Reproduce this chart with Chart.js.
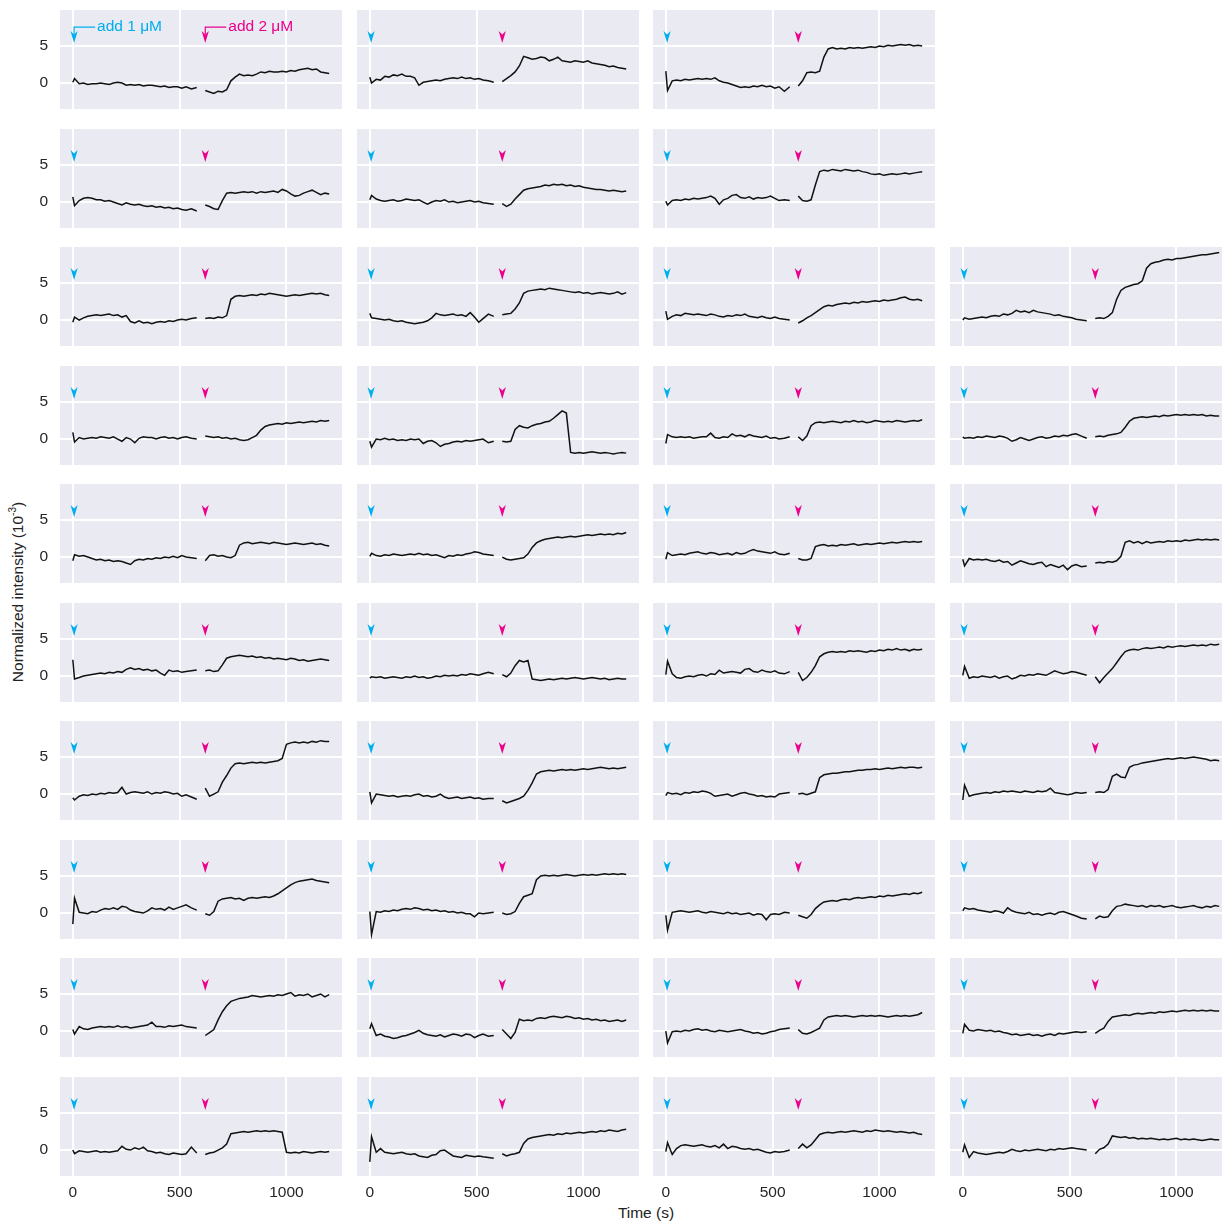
<!DOCTYPE html>
<html>
<head>
<meta charset="utf-8">
<script src="https://cdn.jsdelivr.net/npm/chart.js@4.4.1/dist/chart.umd.min.js"></script>
<style>
  html, body { margin: 0; padding: 0; background: #fff; overflow: hidden; width: 1222px; height: 1222px; }
  #fig { position: relative; width: 1222px; height: 1222px; overflow: hidden; }
  #fig canvas { position: absolute; }
  .axt { position: absolute; font-family: "Liberation Sans", Arial, sans-serif; font-size: 15.5px; color: #222; white-space: nowrap; }
  .axt sup { font-size: 10px; }
  #ytitle { left: 17px; top: 592px; transform: translate(-50%, -50%) rotate(-90deg); }
  #xtitle { left: 646px; top: 1213px; transform: translate(-50%, -50%); }
</style>
</head>
<body>
<div id="fig">
  <div class="axt" id="ytitle">Normalized intensity (10<sup>-3</sup>)</div>
  <div class="axt" id="xtitle">Time (s)</div>
</div>
<script>
// sample times (s) of the two recording segments
const t1 = [0, 8, 30, 50, 70, 90, 110, 130, 150, 170, 190, 210, 230, 250, 270, 290, 310, 330, 350, 370, 390, 410, 430, 450, 470, 490, 510, 530, 555, 580];
const t2 = [620, 640, 660, 680, 700, 720, 740, 760, 780, 800, 820, 840, 860, 880, 900, 920, 940, 960, 980, 1000, 1020, 1040, 1060, 1080, 1100, 1120, 1140, 1160, 1180, 1200];

// additions: time (s), label, colour
const additionTimes = [6, 620];
const doseLabels = ['add 1 \u03bcM', 'add 2 \u03bcM'];
const doseColors = ['#00AEEF', '#EC008C'];

const xTicks = [0, 500, 1000];
const yTicks = [0, 5];

// normalized intensity traces (10^-3), per cell: after 1 uM and after 2 uM
const r1c1_1uM = [0.1, 0.6, -0.1, 0.0, -0.2, -0.1, -0.1, 0.0, -0.1, -0.2, 0.0, 0.1, 0.0, -0.3, -0.2, -0.3, -0.2, -0.4, -0.3, -0.3, -0.4, -0.5, -0.4, -0.6, -0.5, -0.5, -0.7, -0.5, -0.8, -0.6];
const r1c1_2uM = [-1.0, -1.2, -1.4, -1.1, -1.2, -0.9, 0.3, 0.8, 1.2, 1.0, 1.1, 1.0, 1.2, 1.5, 1.4, 1.6, 1.5, 1.5, 1.6, 1.5, 1.7, 1.6, 1.8, 1.9, 2.0, 1.8, 1.9, 1.5, 1.4, 1.3];
const r1c2_1uM = [0.8, 0.0, 0.5, 0.4, 0.9, 0.8, 1.1, 1.0, 1.2, 0.9, 0.9, 0.7, -0.3, 0.1, 0.2, 0.3, 0.4, 0.3, 0.5, 0.6, 0.7, 0.6, 0.8, 0.6, 0.7, 0.5, 0.6, 0.4, 0.3, 0.1];
const r1c2_2uM = [0.2, 0.6, 1.0, 1.5, 2.3, 3.6, 3.4, 3.2, 3.3, 3.5, 3.4, 3.0, 3.2, 3.5, 3.0, 2.9, 2.8, 3.0, 2.9, 2.8, 3.0, 2.7, 2.6, 2.5, 2.4, 2.2, 2.3, 2.1, 2.0, 1.9];
const r1c3_1uM = [1.6, -1.0, 0.3, 0.4, 0.3, 0.5, 0.4, 0.5, 0.6, 0.5, 0.6, 0.5, 0.7, 0.3, 0.1, 0.0, -0.2, -0.4, -0.6, -0.5, -0.6, -0.4, -0.5, -0.3, -0.5, -0.4, -0.7, -0.5, -1.1, -0.5];
const r1c3_2uM = [-0.4, 0.3, 1.4, 1.5, 1.4, 1.6, 3.5, 4.6, 4.8, 4.6, 4.7, 4.6, 4.8, 4.7, 4.8, 4.7, 4.8, 4.9, 4.8, 5.0, 4.9, 5.1, 5.0, 5.1, 5.2, 5.1, 5.2, 5.0, 5.1, 5.0];

const r2c1_1uM = [0.7, -0.5, 0.2, 0.5, 0.6, 0.5, 0.3, 0.3, 0.1, 0.2, 0.0, -0.2, -0.4, -0.1, -0.3, -0.4, -0.3, -0.5, -0.6, -0.5, -0.7, -0.6, -0.8, -0.7, -0.9, -0.8, -1.0, -1.1, -0.9, -1.2];
const r2c1_2uM = [-0.4, -0.6, -0.9, -1.0, 0.2, 1.2, 1.3, 1.2, 1.3, 1.4, 1.3, 1.4, 1.2, 1.4, 1.3, 1.4, 1.5, 1.3, 1.7, 1.5, 1.1, 0.8, 0.9, 1.2, 1.4, 1.6, 1.3, 1.0, 1.2, 1.1];
const r2c2_1uM = [0.3, 0.9, 0.4, 0.2, 0.1, 0.2, 0.3, 0.1, 0.2, 0.4, 0.3, 0.2, 0.3, 0.0, -0.3, 0.0, 0.2, 0.1, 0.3, 0.0, 0.1, -0.1, 0.0, 0.1, 0.2, 0.0, 0.1, -0.1, -0.2, -0.3];
const r2c2_2uM = [-0.2, -0.6, -0.3, 0.4, 1.0, 1.6, 1.8, 1.9, 2.0, 2.1, 2.3, 2.2, 2.4, 2.3, 2.4, 2.2, 2.3, 2.1, 2.2, 2.0, 1.9, 1.8, 1.7, 1.7, 1.6, 1.5, 1.6, 1.5, 1.4, 1.5];
const r2c3_1uM = [0.1, -0.4, 0.2, 0.3, 0.2, 0.4, 0.3, 0.5, 0.4, 0.5, 0.6, 0.8, 0.5, -0.3, 0.3, 0.5, 0.9, 1.0, 0.6, 0.5, 0.7, 0.4, 0.6, 0.5, 0.6, 0.8, 0.5, 0.2, 0.3, 0.2];
const r2c3_2uM = [0.8, 0.2, 0.1, 0.3, 2.3, 4.1, 4.3, 4.2, 4.4, 4.3, 4.2, 4.4, 4.3, 4.2, 4.3, 4.1, 4.0, 3.8, 3.7, 3.8, 3.6, 3.7, 3.8, 3.7, 3.8, 3.9, 3.8, 3.9, 4.0, 4.1];

const r3c1_1uM = [-0.3, 0.4, 0.0, 0.3, 0.5, 0.6, 0.7, 0.6, 0.7, 0.8, 0.6, 0.7, 0.4, 0.6, -0.2, -0.4, -0.1, -0.4, -0.3, -0.5, -0.3, -0.2, -0.3, -0.1, -0.2, 0.0, 0.1, 0.0, 0.2, 0.3];
const r3c1_2uM = [0.2, 0.3, 0.2, 0.4, 0.3, 0.6, 2.8, 3.2, 3.3, 3.2, 3.3, 3.4, 3.3, 3.5, 3.4, 3.6, 3.5, 3.4, 3.3, 3.2, 3.3, 3.4, 3.3, 3.4, 3.5, 3.6, 3.5, 3.6, 3.4, 3.3];
const r3c2_1uM = [0.9, 0.3, 0.2, 0.1, 0.0, 0.1, -0.1, -0.2, -0.1, -0.3, -0.4, -0.5, -0.4, -0.3, -0.1, 0.3, 0.9, 0.7, 0.6, 0.7, 0.8, 0.6, 0.7, 0.5, 1.0, 0.4, -0.3, 0.2, 0.8, 0.5];
const r3c2_2uM = [0.7, 0.8, 0.9, 1.5, 2.3, 3.6, 3.9, 4.0, 4.1, 4.2, 4.1, 4.3, 4.2, 4.1, 4.0, 3.9, 3.8, 3.7, 3.8, 3.6, 3.7, 3.5, 3.6, 3.7, 3.6, 3.5, 3.6, 3.8, 3.5, 3.7];
const r3c3_1uM = [1.2, 0.1, 0.5, 0.7, 0.6, 0.9, 0.8, 0.7, 0.8, 0.7, 0.6, 0.8, 0.7, 0.5, 0.4, 0.6, 0.5, 0.7, 0.6, 0.8, 0.5, 0.4, 0.3, 0.5, 0.3, 0.2, 0.4, 0.2, 0.1, 0.0];
const r3c3_2uM = [-0.4, -0.1, 0.3, 0.6, 1.0, 1.4, 1.8, 2.0, 1.9, 2.1, 2.2, 2.3, 2.2, 2.4, 2.3, 2.5, 2.4, 2.5, 2.6, 2.5, 2.7, 2.6, 2.7, 2.8, 3.0, 3.1, 2.8, 2.7, 2.8, 2.6];
const r3c4_1uM = [0.0, 0.3, 0.1, 0.2, 0.3, 0.4, 0.3, 0.5, 0.6, 0.5, 0.8, 0.7, 0.9, 1.3, 1.1, 1.2, 1.0, 1.3, 1.1, 1.0, 0.9, 0.8, 0.6, 0.7, 0.5, 0.4, 0.3, 0.1, 0.0, -0.1];
const r3c4_2uM = [0.2, 0.3, 0.2, 0.5, 1.0, 2.8, 4.0, 4.4, 4.6, 4.8, 4.9, 5.3, 7.0, 7.6, 7.8, 7.9, 8.1, 8.2, 8.1, 8.3, 8.3, 8.4, 8.5, 8.6, 8.7, 8.8, 8.8, 8.9, 9.0, 9.1];

const r4c1_1uM = [0.9, -0.4, 0.2, 0.0, 0.1, 0.2, 0.1, 0.3, 0.2, 0.1, 0.3, 0.0, -0.3, 0.2, 0.0, -0.5, 0.1, 0.3, 0.2, 0.2, 0.0, 0.2, 0.3, 0.1, 0.2, 0.0, 0.2, 0.3, 0.1, 0.0];
const r4c1_2uM = [0.4, 0.3, 0.2, 0.3, 0.1, 0.2, 0.0, 0.1, -0.1, -0.2, -0.1, 0.2, 0.5, 1.2, 1.7, 1.9, 2.0, 2.1, 2.0, 2.2, 2.1, 2.2, 2.3, 2.2, 2.3, 2.4, 2.3, 2.5, 2.4, 2.5];
const r4c2_1uM = [-0.3, -1.1, 0.0, -0.1, 0.1, -0.1, 0.0, -0.2, -0.1, -0.2, 0.0, -0.1, 0.0, -0.6, -0.3, -0.2, -0.5, -1.0, -0.7, -0.6, -0.4, -0.3, -0.4, -0.2, -0.3, -0.2, -0.1, 0.0, -0.5, -0.3];
const r4c2_2uM = [-0.3, -0.4, -0.3, 1.3, 1.8, 1.6, 1.5, 1.8, 2.0, 2.1, 2.3, 2.4, 2.8, 3.3, 3.8, 3.5, -1.8, -1.9, -1.8, -1.9, -1.8, -1.7, -1.8, -1.9, -1.8, -1.9, -2.0, -1.9, -1.8, -1.9];
const r4c3_1uM = [-0.6, 0.6, 0.3, 0.2, 0.3, 0.2, 0.3, 0.1, 0.2, 0.3, 0.3, 0.8, 0.2, 0.1, 0.3, 0.2, 0.7, 0.4, 0.5, 0.3, 0.6, 0.4, 0.3, 0.2, 0.4, 0.1, 0.2, 0.0, 0.1, 0.3];
const r4c3_2uM = [0.3, -0.2, 0.4, 1.8, 2.2, 2.3, 2.2, 2.3, 2.4, 2.3, 2.2, 2.4, 2.3, 2.5, 2.3, 2.4, 2.2, 2.3, 2.5, 2.4, 2.3, 2.4, 2.3, 2.5, 2.4, 2.3, 2.4, 2.5, 2.4, 2.6];
const r4c4_1uM = [0.3, 0.1, 0.2, 0.1, 0.3, 0.2, 0.4, 0.3, 0.2, 0.4, 0.3, 0.1, -0.3, -0.1, 0.2, 0.0, -0.2, 0.0, 0.2, 0.3, 0.1, 0.2, 0.4, 0.3, 0.5, 0.4, 0.6, 0.7, 0.4, 0.1];
const r4c4_2uM = [0.3, 0.4, 0.3, 0.5, 0.6, 0.7, 0.9, 1.6, 2.4, 2.8, 2.9, 3.0, 2.9, 3.0, 3.1, 3.0, 3.2, 3.1, 3.2, 3.3, 3.2, 3.3, 3.2, 3.3, 3.2, 3.3, 3.1, 3.2, 3.1, 3.1];

const r5c1_1uM = [-0.5, 0.3, 0.1, 0.2, 0.0, -0.2, -0.4, -0.3, -0.5, -0.4, -0.6, -0.5, -0.6, -0.8, -1.0, -0.5, -0.3, -0.4, -0.2, -0.3, -0.1, -0.2, 0.0, -0.1, 0.1, -0.1, 0.2, 0.0, -0.1, -0.2];
const r5c1_2uM = [-0.5, 0.2, 0.3, 0.1, 0.2, 0.0, -0.1, 0.2, 1.6, 1.9, 2.0, 1.8, 1.9, 2.0, 1.9, 1.8, 2.0, 1.9, 1.8, 1.7, 1.8, 1.9, 1.8, 1.7, 1.8, 1.9, 1.7, 1.8, 1.6, 1.5];
const r5c2_1uM = [0.1, 0.5, 0.2, 0.1, 0.3, 0.2, 0.4, 0.3, 0.2, 0.3, 0.4, 0.3, 0.5, 0.3, 0.4, 0.2, 0.3, 0.1, -0.1, 0.2, 0.1, 0.3, 0.2, 0.4, 0.5, 0.7, 0.6, 0.4, 0.3, 0.2];
const r5c2_2uM = [0.0, -0.3, -0.4, -0.3, -0.2, -0.1, 0.4, 1.3, 1.9, 2.2, 2.4, 2.5, 2.6, 2.7, 2.6, 2.7, 2.8, 2.7, 2.8, 2.9, 3.0, 2.9, 3.0, 3.1, 3.0, 3.1, 3.0, 3.2, 3.1, 3.3];
const r5c3_1uM = [-0.3, 0.6, 0.2, 0.3, 0.4, 0.3, 0.5, 0.6, 0.7, 0.5, 0.4, 0.6, 0.5, 0.3, 0.4, 0.5, 0.3, 0.6, 0.4, 0.5, 0.8, 1.0, 0.8, 0.7, 0.6, 0.5, 0.7, 0.4, 0.3, 0.5];
const r5c3_2uM = [-0.2, -0.4, -0.4, -0.2, 1.4, 1.6, 1.7, 1.5, 1.6, 1.5, 1.7, 1.6, 1.7, 1.8, 1.6, 1.7, 1.8, 1.7, 1.8, 1.9, 1.8, 1.9, 2.0, 1.9, 2.0, 2.1, 2.0, 2.1, 2.0, 2.1];
const r5c4_1uM = [-0.3, -1.2, -0.2, -0.4, -0.3, -0.4, -0.3, -0.5, -0.6, -0.4, -0.7, -0.6, -1.1, -0.8, -0.5, -0.7, -0.9, -1.0, -0.8, -0.7, -1.3, -1.0, -1.2, -1.4, -1.1, -1.7, -1.2, -1.0, -1.3, -1.2];
const r5c4_2uM = [-0.8, -0.7, -0.8, -0.6, -0.7, -0.5, 0.1, 2.0, 2.2, 1.9, 2.1, 1.8, 2.1, 1.9, 2.0, 2.1, 2.0, 2.2, 2.1, 2.2, 2.1, 2.3, 2.2, 2.3, 2.4, 2.3, 2.4, 2.3, 2.4, 2.3];

const r6c1_1uM = [2.2, -0.4, -0.2, 0.0, 0.1, 0.2, 0.3, 0.4, 0.3, 0.5, 0.4, 0.6, 0.5, 0.9, 1.1, 0.9, 1.0, 0.8, 0.9, 0.7, 0.8, 0.4, 0.1, 0.8, 0.6, 0.7, 0.5, 0.6, 0.7, 0.8];
const r6c1_2uM = [0.7, 0.8, 0.6, 0.7, 1.5, 2.4, 2.6, 2.7, 2.8, 2.7, 2.6, 2.7, 2.5, 2.6, 2.4, 2.5, 2.3, 2.4, 2.3, 2.2, 2.4, 2.3, 2.1, 2.2, 2.0, 2.1, 2.2, 2.3, 2.2, 2.1];
const r6c2_1uM = [-0.3, -0.1, -0.2, -0.1, -0.3, -0.2, -0.1, -0.2, -0.3, -0.1, -0.2, 0.0, -0.2, -0.1, -0.3, -0.2, 0.0, -0.1, 0.1, 0.0, 0.1, 0.0, 0.2, 0.1, 0.3, 0.2, 0.1, 0.3, 0.5, 0.3];
const r6c2_2uM = [0.2, -0.1, 0.4, 1.4, 2.1, 1.9, 2.1, -0.4, -0.5, -0.6, -0.5, -0.4, -0.5, -0.4, -0.3, -0.4, -0.3, -0.2, -0.3, -0.4, -0.3, -0.2, -0.3, -0.4, -0.3, -0.5, -0.4, -0.3, -0.4, -0.4];
const r6c3_1uM = [0.2, 2.0, 0.3, -0.2, -0.3, -0.1, 0.0, -0.1, 0.1, 0.2, 0.0, 0.3, 0.2, 0.8, 0.4, 0.5, 0.6, 0.5, 0.4, 0.9, 1.0, 0.6, 0.5, 0.8, 0.6, 0.5, 0.7, 0.4, 0.3, 0.6];
const r6c3_2uM = [0.5, -0.6, -0.2, 0.5, 1.4, 2.6, 3.0, 3.2, 3.3, 3.2, 3.3, 3.2, 3.4, 3.3, 3.4, 3.3, 3.2, 3.4, 3.3, 3.5, 3.4, 3.6, 3.5, 3.7, 3.5, 3.6, 3.4, 3.6, 3.5, 3.6];
const r6c4_1uM = [0.1, 1.3, -0.3, -0.1, -0.2, 0.0, -0.1, -0.2, 0.0, -0.3, -0.1, 0.0, -0.4, -0.2, 0.1, 0.0, 0.2, 0.1, 0.3, 0.2, 0.1, 0.4, 0.7, 0.5, 0.3, 0.4, 0.6, 0.5, 0.3, 0.1];
const r6c4_2uM = [-0.1, -0.9, -0.2, 0.4, 1.0, 1.8, 2.6, 3.3, 3.5, 3.6, 3.5, 3.7, 3.8, 3.7, 3.8, 3.9, 3.8, 4.0, 3.9, 4.0, 4.1, 4.0, 4.1, 4.2, 4.1, 4.2, 4.1, 4.3, 4.2, 4.3];

const r7c1_1uM = [-0.5, -0.8, -0.3, -0.1, -0.2, 0.0, -0.1, 0.1, 0.0, 0.2, 0.1, 0.2, 0.9, 0.0, 0.2, 0.3, 0.2, 0.1, 0.3, 0.0, 0.2, 0.1, 0.3, 0.2, 0.0, 0.1, -0.3, -0.1, -0.4, -0.7];
const r7c1_2uM = [0.8, -0.3, 0.0, 0.3, 1.6, 2.5, 3.5, 4.1, 4.2, 4.1, 4.2, 4.3, 4.2, 4.3, 4.2, 4.3, 4.4, 4.5, 4.8, 6.7, 6.9, 7.0, 6.9, 7.0, 6.9, 7.1, 7.0, 7.2, 7.1, 7.1];
const r7c2_1uM = [0.3, -1.2, 0.0, -0.1, -0.2, -0.3, -0.2, -0.4, -0.3, -0.2, -0.3, -0.1, 0.0, -0.3, -0.2, -0.4, -0.3, 0.0, -0.4, -0.6, -0.5, -0.4, -0.6, -0.5, -0.4, -0.6, -0.5, -0.7, -0.6, -0.6];
const r7c2_2uM = [-0.9, -1.2, -1.0, -0.8, -0.6, -0.3, 0.5, 1.5, 2.7, 3.0, 3.1, 3.2, 3.1, 3.2, 3.3, 3.2, 3.3, 3.2, 3.3, 3.4, 3.3, 3.4, 3.5, 3.6, 3.5, 3.4, 3.5, 3.4, 3.5, 3.6];
const r7c3_1uM = [-0.2, 0.2, 0.0, 0.1, -0.1, 0.2, 0.1, 0.3, 0.2, 0.4, 0.3, 0.1, -0.3, -0.2, -0.1, 0.0, -0.3, -0.1, 0.1, 0.2, 0.0, -0.1, -0.3, -0.2, -0.4, -0.3, -0.4, 0.0, 0.1, 0.2];
const r7c3_2uM = [0.0, 0.1, -0.1, 0.1, 0.3, 2.2, 2.6, 2.7, 2.8, 2.8, 2.9, 3.0, 3.0, 3.1, 3.2, 3.2, 3.3, 3.3, 3.4, 3.3, 3.4, 3.5, 3.4, 3.5, 3.6, 3.5, 3.6, 3.6, 3.5, 3.6];
const r7c4_1uM = [-0.8, 1.2, -0.3, -0.1, 0.0, 0.1, 0.2, 0.1, 0.3, 0.2, 0.4, 0.3, 0.4, 0.3, 0.2, 0.4, 0.3, 0.2, 0.4, 0.3, 0.4, 0.8, 0.2, 0.1, 0.0, -0.1, 0.0, 0.2, 0.1, 0.2];
const r7c4_2uM = [0.2, 0.3, 0.2, 0.6, 2.4, 2.7, 2.3, 2.2, 3.6, 3.9, 4.0, 4.2, 4.3, 4.4, 4.5, 4.6, 4.7, 4.8, 4.7, 4.8, 4.9, 4.8, 4.9, 5.0, 4.9, 4.8, 4.7, 4.5, 4.6, 4.5];

const r8c1_1uM = [-1.5, 2.0, 0.1, 0.0, -0.1, 0.2, 0.1, 0.4, 0.6, 0.5, 0.7, 0.5, 0.9, 0.8, 0.4, 0.2, 0.1, 0.0, 0.3, 0.7, 0.5, 0.6, 0.4, 0.8, 0.5, 0.7, 0.9, 1.1, 0.7, 0.4];
const r8c1_2uM = [-0.1, -0.3, 0.2, 1.6, 1.9, 2.0, 2.1, 1.9, 2.0, 1.7, 2.0, 2.1, 2.0, 2.1, 2.2, 2.1, 2.3, 2.6, 3.0, 3.4, 3.8, 4.1, 4.3, 4.4, 4.5, 4.6, 4.4, 4.3, 4.2, 4.1];
const r8c2_1uM = [0.2, -2.9, 0.2, 0.1, 0.3, 0.2, 0.4, 0.3, 0.5, 0.6, 0.5, 0.7, 0.6, 0.4, 0.5, 0.3, 0.4, 0.2, 0.3, 0.1, 0.2, 0.0, 0.1, -0.1, -0.1, -0.5, 0.0, -0.1, 0.0, 0.1];
const r8c2_2uM = [0.0, -0.2, -0.1, 0.2, 1.3, 2.2, 2.4, 2.6, 4.5, 5.0, 5.1, 5.0, 5.1, 5.0, 5.1, 5.2, 5.1, 5.0, 5.1, 5.2, 5.1, 5.2, 5.1, 5.2, 5.3, 5.2, 5.3, 5.2, 5.3, 5.2];
const r8c3_1uM = [-0.3, -2.3, 0.1, 0.2, 0.3, 0.2, 0.1, 0.2, 0.3, 0.1, 0.0, 0.2, 0.1, 0.0, -0.1, 0.1, -0.1, 0.0, -0.2, -0.1, 0.0, -0.3, -0.1, -0.2, -0.9, -0.2, -0.1, -0.2, 0.1, 0.0];
const r8c3_2uM = [-0.3, -0.5, -0.7, -0.2, 0.6, 1.1, 1.5, 1.6, 1.7, 1.6, 1.8, 1.9, 1.8, 2.0, 2.1, 2.0, 2.1, 2.2, 2.1, 2.3, 2.2, 2.4, 2.3, 2.4, 2.5, 2.6, 2.5, 2.7, 2.6, 2.8];
const r8c4_1uM = [0.3, 0.7, 0.5, 0.6, 0.4, 0.3, 0.2, 0.1, 0.3, 0.2, 0.0, 0.7, 0.3, 0.1, 0.0, -0.1, 0.1, -0.2, -0.1, -0.3, -0.1, 0.0, -0.2, 0.1, 0.2, 0.0, -0.2, -0.4, -0.7, -0.8];
const r8c4_2uM = [-0.8, -0.4, -0.6, -0.5, 0.3, 0.9, 1.0, 1.2, 1.1, 1.0, 0.9, 1.0, 0.8, 1.0, 0.9, 1.0, 0.8, 0.9, 1.0, 0.8, 0.7, 0.8, 0.9, 1.0, 0.8, 0.7, 0.9, 0.8, 1.0, 0.9];

const r9c1_1uM = [0.2, -0.4, 0.6, 0.3, 0.2, 0.4, 0.5, 0.6, 0.5, 0.6, 0.5, 0.7, 0.5, 0.6, 0.4, 0.5, 0.6, 0.7, 0.8, 1.2, 0.6, 0.6, 0.5, 0.7, 0.6, 0.7, 0.8, 0.6, 0.5, 0.4];
const r9c1_2uM = [-0.6, -0.2, 0.2, 1.5, 2.6, 3.4, 4.0, 4.2, 4.4, 4.5, 4.6, 4.8, 4.7, 4.6, 4.7, 4.8, 4.7, 4.9, 4.8, 5.0, 5.2, 4.7, 4.9, 4.8, 5.0, 4.6, 4.8, 5.0, 4.6, 4.9];
const r9c2_1uM = [0.3, 1.0, -0.6, -0.4, -0.7, -0.8, -1.0, -0.9, -0.7, -0.6, -0.4, -0.2, 0.1, -0.3, -0.5, -0.6, -0.7, -0.5, -0.8, -0.6, -0.4, -0.5, -0.7, -0.4, -0.5, -0.9, -0.6, -0.4, -0.7, -0.6];
const r9c2_2uM = [0.2, -0.4, -1.0, -0.2, 1.6, 1.4, 1.5, 1.4, 1.7, 1.8, 1.7, 1.9, 2.0, 1.9, 1.8, 2.0, 1.9, 1.7, 1.8, 1.6, 1.7, 1.5, 1.6, 1.4, 1.5, 1.3, 1.4, 1.5, 1.3, 1.5];
const r9c3_1uM = [0.0, -1.6, -0.1, 0.0, -0.1, 0.1, 0.0, 0.2, 0.3, 0.1, 0.2, 0.0, -0.1, 0.1, 0.0, -0.1, 0.0, 0.1, 0.2, 0.0, -0.1, -0.3, -0.2, -0.4, -0.3, -0.1, 0.0, 0.2, 0.3, 0.4];
const r9c3_2uM = [0.2, -0.3, -0.4, -0.2, 0.1, 0.4, 1.5, 1.9, 2.0, 2.1, 2.0, 2.1, 2.0, 1.9, 2.0, 2.1, 2.0, 2.1, 2.0, 2.1, 2.0, 1.9, 2.0, 2.1, 2.0, 2.1, 2.0, 2.1, 2.2, 2.5];
const r9c4_1uM = [-0.3, 0.9, 0.1, 0.0, 0.2, 0.1, 0.0, 0.1, -0.1, 0.0, -0.2, -0.3, -0.5, -0.4, -0.6, -0.5, -0.4, -0.6, -0.5, -0.7, -0.5, -0.4, -0.6, -0.3, -0.4, -0.3, -0.2, -0.1, -0.2, -0.1];
const r9c4_2uM = [-0.3, 0.1, 0.4, 1.3, 1.9, 2.0, 2.1, 2.2, 2.1, 2.3, 2.4, 2.3, 2.4, 2.5, 2.4, 2.6, 2.5, 2.6, 2.7, 2.6, 2.7, 2.8, 2.7, 2.8, 2.7, 2.8, 2.7, 2.8, 2.7, 2.7];

const r10c1_1uM = [0.0, -0.5, -0.1, -0.2, -0.3, -0.2, -0.1, -0.3, -0.2, -0.3, -0.2, -0.1, 0.5, 0.1, 0.0, 0.3, 0.1, 0.4, -0.1, -0.2, -0.4, -0.3, -0.5, -0.6, -0.4, -0.5, -0.6, -0.5, 0.4, -0.4];
const r10c1_2uM = [-0.6, -0.4, -0.3, 0.0, 0.3, 0.8, 2.2, 2.3, 2.4, 2.5, 2.4, 2.5, 2.6, 2.5, 2.6, 2.5, 2.6, 2.5, 2.4, -0.3, -0.4, -0.3, -0.4, -0.2, -0.3, -0.4, -0.3, -0.2, -0.3, -0.2];
const r10c2_1uM = [-1.6, 1.8, -0.3, 0.2, -0.3, -0.4, -0.5, -0.4, -0.3, -0.5, -0.6, -0.5, -0.8, -0.9, -1.0, -0.7, -0.6, -0.1, 0.0, -0.4, -0.8, -0.9, -1.0, -0.7, -0.8, -0.9, -0.8, -0.9, -1.0, -1.1];
const r10c2_2uM = [-0.5, -0.8, -0.6, -0.5, -0.3, 0.9, 1.5, 1.7, 1.8, 1.9, 2.0, 2.1, 2.0, 2.2, 2.1, 2.3, 2.2, 2.3, 2.4, 2.3, 2.4, 2.5, 2.4, 2.6, 2.5, 2.7, 2.6, 2.5, 2.7, 2.8];
const r10c3_1uM = [-0.2, 1.0, -0.6, 0.2, 0.6, 0.7, 0.6, 0.5, 0.6, 0.7, 0.5, 0.4, 0.6, 0.3, 0.8, 0.2, 0.5, 0.4, 0.2, 0.1, 0.2, 0.0, 0.1, -0.1, -0.3, -0.4, -0.2, -0.3, -0.2, 0.0];
const r10c3_2uM = [0.2, 0.8, 0.3, 0.7, 1.4, 2.1, 2.3, 2.4, 2.3, 2.4, 2.5, 2.4, 2.5, 2.6, 2.5, 2.4, 2.6, 2.5, 2.7, 2.6, 2.5, 2.6, 2.5, 2.4, 2.5, 2.4, 2.3, 2.4, 2.2, 2.1];
const r10c4_1uM = [-0.3, 0.7, -1.0, -0.2, -0.4, -0.5, -0.6, -0.5, -0.4, -0.3, -0.4, -0.2, 0.1, -0.1, -0.2, 0.0, -0.1, 0.0, 0.1, 0.0, -0.1, 0.1, 0.0, 0.2, 0.1, 0.2, 0.3, 0.2, 0.1, 0.0];
const r10c4_2uM = [-0.5, 0.1, 0.3, 0.8, 1.9, 1.8, 1.7, 1.8, 1.6, 1.7, 1.5, 1.6, 1.5, 1.6, 1.5, 1.4, 1.5, 1.4, 1.5, 1.6, 1.4, 1.5, 1.4, 1.5, 1.4, 1.3, 1.4, 1.5, 1.4, 1.4];

// grid of cells: [row, col, trace after 1 uM, trace after 2 uM]
const cells = [
  [0, 0, r1c1_1uM, r1c1_2uM], [0, 1, r1c2_1uM, r1c2_2uM], [0, 2, r1c3_1uM, r1c3_2uM],
  [1, 0, r2c1_1uM, r2c1_2uM], [1, 1, r2c2_1uM, r2c2_2uM], [1, 2, r2c3_1uM, r2c3_2uM],
  [2, 0, r3c1_1uM, r3c1_2uM], [2, 1, r3c2_1uM, r3c2_2uM], [2, 2, r3c3_1uM, r3c3_2uM], [2, 3, r3c4_1uM, r3c4_2uM],
  [3, 0, r4c1_1uM, r4c1_2uM], [3, 1, r4c2_1uM, r4c2_2uM], [3, 2, r4c3_1uM, r4c3_2uM], [3, 3, r4c4_1uM, r4c4_2uM],
  [4, 0, r5c1_1uM, r5c1_2uM], [4, 1, r5c2_1uM, r5c2_2uM], [4, 2, r5c3_1uM, r5c3_2uM], [4, 3, r5c4_1uM, r5c4_2uM],
  [5, 0, r6c1_1uM, r6c1_2uM], [5, 1, r6c2_1uM, r6c2_2uM], [5, 2, r6c3_1uM, r6c3_2uM], [5, 3, r6c4_1uM, r6c4_2uM],
  [6, 0, r7c1_1uM, r7c1_2uM], [6, 1, r7c2_1uM, r7c2_2uM], [6, 2, r7c3_1uM, r7c3_2uM], [6, 3, r7c4_1uM, r7c4_2uM],
  [7, 0, r8c1_1uM, r8c1_2uM], [7, 1, r8c2_1uM, r8c2_2uM], [7, 2, r8c3_1uM, r8c3_2uM], [7, 3, r8c4_1uM, r8c4_2uM],
  [8, 0, r9c1_1uM, r9c1_2uM], [8, 1, r9c2_1uM, r9c2_2uM], [8, 2, r9c3_1uM, r9c3_2uM], [8, 3, r9c4_1uM, r9c4_2uM],
  [9, 0, r10c1_1uM, r10c1_2uM], [9, 1, r10c2_1uM, r10c2_2uM], [9, 2, r10c3_1uM, r10c3_2uM], [9, 3, r10c4_1uM, r10c4_2uM]
];

// ---- layout & style ----
const X_MIN = -60, X_MAX = 1260, Y_MIN = -3.5, Y_MAX = 9.85;
const ARROW_TIP_Y = 5.4, LABEL_Y = 7.55;
const PANEL_W = 282, PANEL_H = 99, LEFT0 = 60, TOP0 = 10, COL_STEP = 296.7, ROW_STEP = 118.56;
const Y_GUTTER = 60, X_GUTTER = 40, LAST_ROW = 9;
const FONT = '"Liberation Sans", Arial, Helvetica, sans-serif';

const panelBackground = {
  id: 'panelBackground',
  beforeDraw(chart) {
    const { ctx, chartArea: a } = chart;
    ctx.save();
    ctx.fillStyle = '#EAEAF2';
    ctx.fillRect(a.left, a.top, a.right - a.left, a.bottom - a.top);
    ctx.restore();
  }
};

const additionMarks = {
  id: 'additionMarks',
  afterDatasetsDraw(chart, args, opts) {
    const { ctx, scales: { x, y } } = chart;
    ctx.save();
    additionTimes.forEach((t, k) => {
      const px = x.getPixelForValue(t);
      const tip = y.getPixelForValue(ARROW_TIP_Y);
      ctx.fillStyle = doseColors[k];
      ctx.beginPath();
      ctx.moveTo(px, tip);
      ctx.lineTo(px - 3.6, tip - 12);
      ctx.lineTo(px, tip - 8.5);
      ctx.lineTo(px + 3.6, tip - 12);
      ctx.closePath();
      ctx.fill();
      if (opts && opts.labels) {
        const ly = y.getPixelForValue(LABEL_Y);
        ctx.strokeStyle = doseColors[k];
        ctx.lineWidth = 1.2;
        ctx.beginPath();
        ctx.moveTo(px, tip - 9);
        ctx.lineTo(px, ly);
        ctx.lineTo(px + 21, ly);
        ctx.stroke();
        ctx.font = '15.5px ' + FONT;
        ctx.textAlign = 'left';
        ctx.textBaseline = 'middle';
        ctx.fillText(doseLabels[k], px + 23, ly);
      }
    });
    ctx.restore();
  }
};

const fig = document.getElementById('fig');

cells.forEach(([row, col, pre, post], idx) => {
  const showY = col === 0;
  const showX = row === LAST_ROW;
  const left = Math.round(LEFT0 + col * COL_STEP) - (showY ? Y_GUTTER : 0);
  const top = Math.round(TOP0 + row * ROW_STEP);
  const w = PANEL_W + (showY ? Y_GUTTER : 0);
  const h = PANEL_H + (showX ? X_GUTTER : 0);

  const cv = document.createElement('canvas');
  cv.width = w; cv.height = h;
  cv.style.left = left + 'px'; cv.style.top = top + 'px';
  cv.style.width = w + 'px'; cv.style.height = h + 'px';
  fig.appendChild(cv);

  const points = t1.map((t, i) => ({ x: t, y: pre[i] }))
    .concat([{ x: 600, y: null }])
    .concat(t2.map((t, i) => ({ x: t, y: post[i] })));

  const tickFont = { family: FONT, size: 15.5 };

  new Chart(cv, {
    type: 'line',
    data: {
      datasets: [{
        data: points,
        borderColor: '#111',
        borderWidth: 1.5,
        pointRadius: 0,
        tension: 0,
        spanGaps: false,
        fill: false
      }]
    },
    options: {
      responsive: false,
      animation: false,
      devicePixelRatio: 1,
      events: [],
      layout: { padding: 0 },
      plugins: {
        legend: { display: false },
        tooltip: { enabled: false },
        additionMarks: { labels: idx === 0 }
      },
      scales: {
        x: {
          type: 'linear',
          min: X_MIN, max: X_MAX,
          afterBuildTicks: s => { s.ticks = xTicks.map(v => ({ value: v })); },
          afterFit: s => {
            s.height = showX ? X_GUTTER : 0;
            s.paddingLeft = 0; s.paddingRight = 0; s.paddingTop = 0; s.paddingBottom = 0;
          },
          grid: { color: '#ffffff', lineWidth: 2, drawTicks: false },
          border: { display: false },
          ticks: {
            display: showX, padding: 7, color: '#262626', font: tickFont,
            maxRotation: 0, autoSkip: false, callback: v => String(v)
          }
        },
        y: {
          type: 'linear',
          min: Y_MIN, max: Y_MAX,
          afterBuildTicks: s => { s.ticks = yTicks.map(v => ({ value: v })); },
          afterFit: s => {
            s.width = showY ? Y_GUTTER : 0;
            s.paddingLeft = 0; s.paddingRight = 0; s.paddingTop = 0; s.paddingBottom = 0;
          },
          grid: { color: '#ffffff', lineWidth: 2, drawTicks: false },
          border: { display: false },
          ticks: {
            display: showY, padding: 12, color: '#262626', font: tickFont,
            autoSkip: false, callback: v => String(v)
          }
        }
      }
    },
    plugins: [panelBackground, additionMarks]
  });
});
</script>
</body>
</html>
